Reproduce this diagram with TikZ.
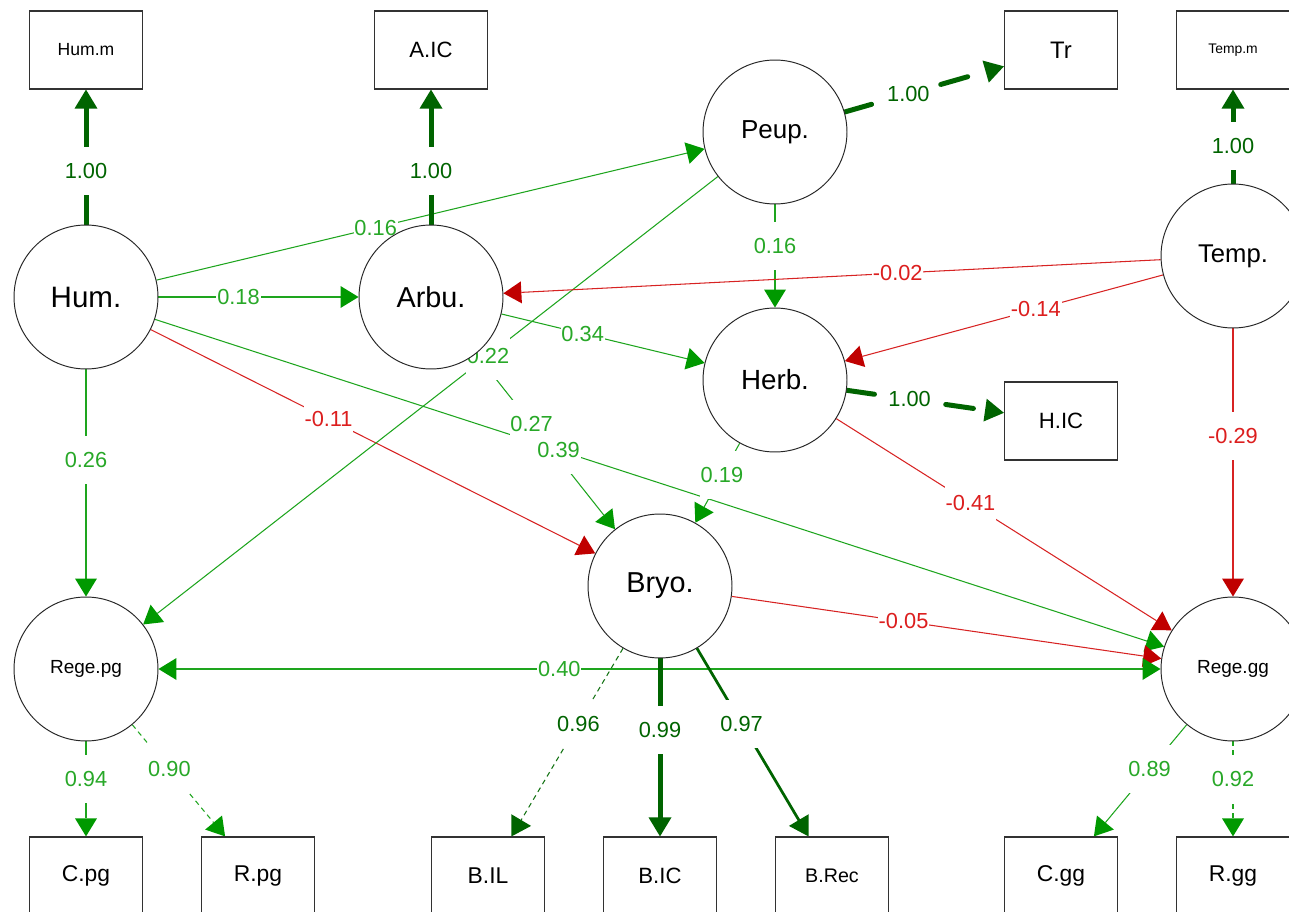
\documentclass[tikz,border=0pt]{standalone}
\usepackage{fontspec}
\setmainfont{Liberation Sans}
\usetikzlibrary{arrows.meta}
\definecolor{ga}{RGB}{0,153,0}
\definecolor{gl}{RGB}{30,165,30}
\definecolor{gt}{RGB}{40,168,40}
\definecolor{dg}{RGB}{0,100,0}
\definecolor{dgl}{RGB}{20,115,20}
\definecolor{ra}{RGB}{192,0,0}
\definecolor{rl}{RGB}{215,35,35}
\definecolor{rt}{RGB}{220,30,30}
\definecolor{bd}{RGB}{50,50,50}
\pgfdeclarelayer{edges}\pgfdeclarelayer{lblbg}\pgfdeclarelayer{lbltx}
\pgfsetlayers{edges,lblbg,lbltx,main}
\newcommand\fs[1]{\fontsize{#1}{#1}\selectfont}
\newcommand\elab[4]{%
 \begin{pgfonlayer}{lblbg}\path (#1) -- (#2) node[pos=0.4,lblbox]{\phantom{#3}};\end{pgfonlayer}%
 \begin{pgfonlayer}{lbltx}\path (#1) -- (#2) node[pos=0.4,lbltext,text=#4]{#3};\end{pgfonlayer}}
\tikzset{
 lat/.style={circle, draw=black!85, line width=0.55pt, fill=white, minimum size=2.88cm, inner sep=0pt},
 obs/.style={rectangle, draw=bd, line width=0.7pt, fill=white, minimum width=2.26cm, minimum height=1.56cm, inner sep=0pt},
 lblbox/.style={fill=white, inner xsep=0.5pt, inner ysep=0pt, minimum height=0.96cm, font=\fs{12.4pt}},
 lbltext/.style={inner sep=0pt, font=\fs{12.4pt}},
 epos/.style={draw=gl, line width=0.6pt, -{Triangle[length=0.36cm,width=0.44cm,line width=0pt,color=ga]}},
 eneg/.style={draw=rl, line width=0.6pt, -{Triangle[length=0.36cm,width=0.44cm,line width=0pt,color=ra]}},
 eload/.style={draw=dg, line width=0.1cm, line cap=round, -{Triangle[length=0.38cm,width=0.46cm,line width=0pt,color=dg]}},
 edsh/.style={dash pattern=on 0.56cm off 0.44cm},
 eldash/.style={dash pattern=on 0.1cm off 0.08cm}
}
\begin{document}
\begin{tikzpicture}[x=0.02cm,y=-0.02cm]
\useasboundingbox (0,0) rectangle (1289,912);
% latent variables
\node[lat, font=\fs{16.8pt}] (hum) at (86,297) {Hum.};
\node[lat, font=\fs{16.4pt}] (arbu) at (431,297) {Arbu.};
\node[lat, font=\fs{14.8pt}] (peup) at (775,132) {Peup.};
\node[lat, font=\fs{14.6pt}] (temp) at (1233,256) {Temp.};
\node[lat, font=\fs{15.8pt}] (herb) at (775,380) {Herb.};
\node[lat, font=\fs{16.4pt}] (bryo) at (660,586) {Bryo.};
\node[lat, font=\fs{10.8pt}] (regepg) at (86,669) {Rege.pg};
\node[lat, font=\fs{10.8pt}] (regegg) at (1233,669) {Rege.gg};
% observed variables
\node[obs, font=\fs{10pt}] (humm) at (86,50) {Hum.m};
\node[obs, font=\fs{12.6pt}] (aic) at (431,50) {A.IC};
\node[obs, font=\fs{13.6pt}] (tr) at (1061,50) {Tr};
\node[obs, font=\fs{7.9pt}] (tempm) at (1233,50) {Temp.m};
\node[obs, font=\fs{12.6pt}] (hic) at (1061,421) {H.IC};
\node[obs, font=\fs{13pt}] (cpg) at (86,876) {C.pg};
\node[obs, font=\fs{13pt}] (rpg) at (258,876) {R.pg};
\node[obs, font=\fs{13pt}] (bil) at (488,876) {B.IL};
\node[obs, font=\fs{12.6pt}] (bic) at (660,876) {B.IC};
\node[obs, font=\fs{11.2pt}] (brec) at (832,876) {B.Rec};
\node[obs, font=\fs{13pt}] (cgg) at (1061,876) {C.gg};
\node[obs, font=\fs{13pt}] (rgg) at (1233,876) {R.gg};
% edges
\begin{pgfonlayer}{edges}
\draw[epos] (hum) -- (peup);
\draw[epos] (hum) -- (arbu);
\draw[eneg] (hum) -- (bryo);
\draw[epos] (hum) -- (regepg);
\draw[epos] (hum) -- (regegg);
\draw[epos] (arbu) -- (herb);
\draw[epos] (arbu) -- (bryo);
\draw[epos] (peup) -- (herb);
\draw[epos] (peup) -- (regepg);
\draw[eneg] (temp) -- (arbu);
\draw[eneg] (temp) -- (herb);
\draw[eneg, line width=0.8pt] (temp) -- (regegg);
\draw[epos] (herb) -- (bryo);
\draw[eneg] (herb) -- (regegg);
\draw[eneg] (bryo) -- (regegg);
\draw[epos, {Triangle[length=0.36cm,width=0.44cm,line width=0pt,color=ga]}-{Triangle[length=0.36cm,width=0.44cm,line width=0pt,color=ga]}] (regepg) -- (regegg);
\draw[eload] (hum) -- (humm);
\draw[eload] (arbu) -- (aic);
\draw[eload, edsh] (peup) -- (tr);
\draw[eload] (temp) -- (tempm);
\draw[eload, edsh] (herb) -- (hic);
\draw[eload] (bryo) -- (bic);
\draw[eload, line width=0.055cm] (bryo) -- (brec);
\draw[eload, draw=dgl, line width=0.6pt, line cap=butt, eldash] (bryo) -- (bil);
\draw[epos] (regepg) -- (cpg);
\draw[epos, eldash] (regepg) -- (rpg);
\draw[epos] (regegg) -- (cgg);
\draw[epos, eldash] (regegg) -- (rgg);
\end{pgfonlayer}
% edge labels
\elab{hum}{peup}{0.16}{gt}
\elab{hum}{arbu}{0.18}{gt}
\elab{hum}{bryo}{-0.11}{rt}
\elab{hum}{regepg}{0.26}{gt}
\elab{hum}{regegg}{0.39}{gt}
\elab{arbu}{herb}{0.34}{gt}
\elab{arbu}{bryo}{0.27}{gt}
\elab{peup}{herb}{0.16}{gt}
\elab{peup}{regepg}{0.22}{gt}
\elab{temp}{arbu}{-0.02}{rt}
\elab{temp}{herb}{-0.14}{rt}
\elab{temp}{regegg}{-0.29}{rt}
\elab{herb}{bryo}{0.19}{gt}
\elab{herb}{regegg}{-0.41}{rt}
\elab{bryo}{regegg}{-0.05}{rt}
\elab{regepg}{regegg}{0.40}{gt}
\elab{hum}{humm}{1.00}{dg}
\elab{arbu}{aic}{1.00}{dg}
\elab{peup}{tr}{1.00}{dg}
\elab{temp}{tempm}{1.00}{dg}
\elab{herb}{hic}{1.00}{dg}
\elab{bryo}{bic}{0.99}{dg}
\elab{bryo}{brec}{0.97}{dg}
\elab{bryo}{bil}{0.96}{dg}
\elab{regepg}{cpg}{0.94}{gt}
\elab{regepg}{rpg}{0.90}{gt}
\elab{regegg}{cgg}{0.89}{gt}
\elab{regegg}{rgg}{0.92}{gt}
\end{tikzpicture}
\end{document}
